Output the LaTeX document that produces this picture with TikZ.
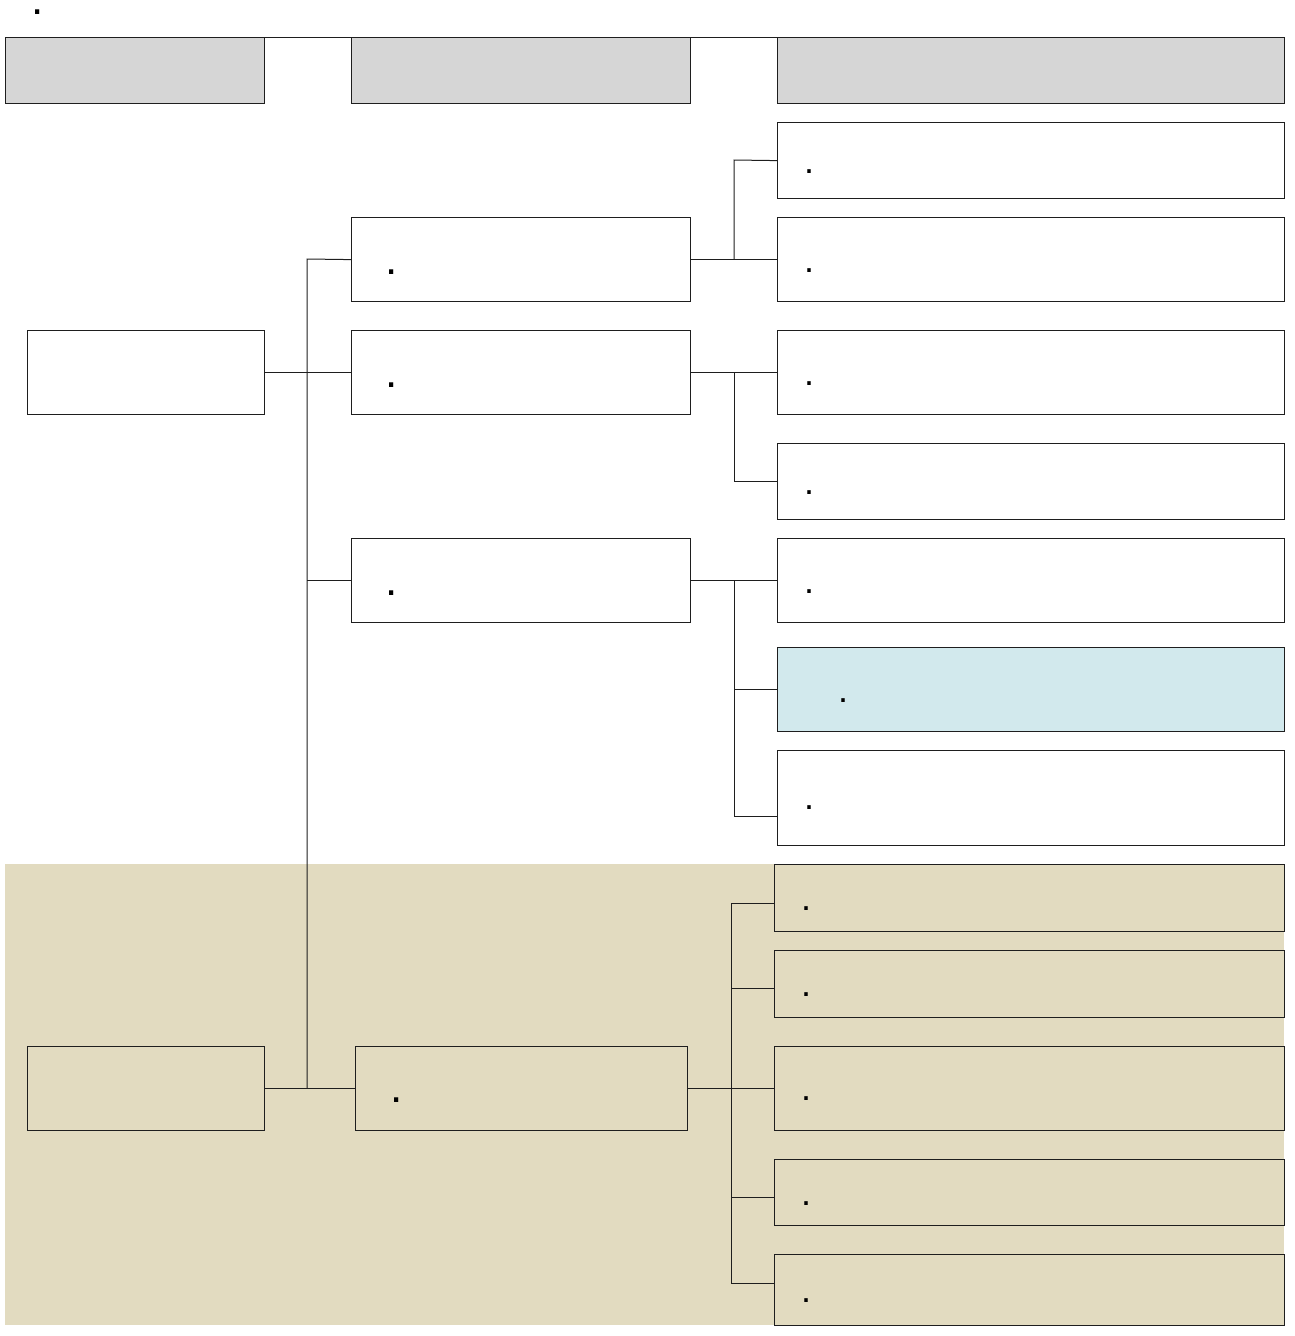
\documentclass[tikz,border=0pt]{standalone}
\usepackage{fontspec}
\setmainfont{Liberation Sans}
\definecolor{hdrgray}{RGB}{214,214,214}
\definecolor{beige}{RGB}{226,219,192}
\definecolor{lblue}{RGB}{210,233,237}
\definecolor{edge}{RGB}{30,30,30}
\begin{document}
\begin{tikzpicture}[x=1pt,y=-1pt,
  box/.style={draw=edge,line width=1.2pt,inner sep=0pt,anchor=north west},
  conn/.style={draw=edge,line width=1pt,line join=miter},
  dotmark/.style={inner sep=0pt,font=\fontsize{36}{36}\selectfont},
  bigdot/.style={inner sep=0pt,font=\fontsize{44}{44}\selectfont}]
\useasboundingbox (0,0) rectangle (1294,1336);
% beige band
\fill[beige] (5,864) rectangle (1284,1325);
% top mark
\node[bigdot] (topdot) at (38,12) {.};
% headers
\node[box,fill=hdrgray,minimum width=259pt,minimum height=66pt] (H1) at (5,37) {};
\node[box,fill=hdrgray,minimum width=339pt,minimum height=66pt] (H2) at (351,37) {};
\node[box,fill=hdrgray,minimum width=507pt,minimum height=66pt] (H3) at (777,37) {};
\draw[conn] (H1.north east) -- (H2.north west);
\draw[conn] (H2.north east) -- (H3.north west);
% left column
\node[box,fill=white,minimum width=237pt,minimum height=84pt] (L1) at (27,330) {};
\node[box,fill=beige,minimum width=237pt,minimum height=84pt] (L2) at (27,1046) {};
% middle column
\node[box,fill=white,minimum width=339pt,minimum height=84pt] (M1) at (351,217) {};
\node[box,fill=white,minimum width=339pt,minimum height=84pt] (M2) at (351,330) {};
\node[box,fill=white,minimum width=339pt,minimum height=84pt] (M3) at (351,538) {};
\node[box,fill=beige,minimum width=332pt,minimum height=84pt] (M4) at (355,1046) {};
\node[bigdot] (dm1) at (392,272) {.};
\node[bigdot] (dm2) at (392,385) {.};
\node[bigdot] (dm3) at (392,593) {.};
\node[bigdot] (dm4) at (397,1100) {.};
% right column
\node[box,fill=white,minimum width=507pt,minimum height=76pt] (R1) at (777,122) {};
\node[box,fill=white,minimum width=507pt,minimum height=84pt] (R2) at (777,217) {};
\node[box,fill=white,minimum width=507pt,minimum height=84pt] (R3) at (777,330) {};
\node[box,fill=white,minimum width=507pt,minimum height=76pt] (R4) at (777,443) {};
\node[box,fill=white,minimum width=507pt,minimum height=84pt] (R5) at (777,538) {};
\node[box,fill=lblue,minimum width=507pt,minimum height=84pt] (R6) at (777,647) {};
\node[box,fill=white,minimum width=507pt,minimum height=95pt] (R7) at (777,750) {};
\node[box,fill=beige,minimum width=510pt,minimum height=67pt] (R8) at (774,864) {};
\node[box,fill=beige,minimum width=510pt,minimum height=67pt] (R9) at (774,950) {};
\node[box,fill=beige,minimum width=510pt,minimum height=84pt] (R10) at (774,1046) {};
\node[box,fill=beige,minimum width=510pt,minimum height=66pt] (R11) at (774,1159) {};
\node[box,fill=beige,minimum width=510pt,minimum height=71pt] (R12) at (774,1254) {};
\node[dotmark] (dr1) at (809,172) {.};
\node[dotmark] (dr2) at (809,271) {.};
\node[dotmark] (dr3) at (809,384) {.};
\node[dotmark] (dr4) at (809,493) {.};
\node[dotmark] (dr5) at (809,592) {.};
\node[dotmark] (dr6) at (843,701) {.};
\node[dotmark] (dr7) at (809,808) {.};
\node[dotmark] (dr8) at (806,909) {.};
\node[dotmark] (dr9) at (806,995) {.};
\node[dotmark] (dr10) at (806,1099) {.};
\node[dotmark] (dr11) at (806,1204) {.};
\node[dotmark] (dr12) at (806,1301) {.};
% junction coordinates
\coordinate (t1) at (307,259);
\coordinate (t2) at (307,1088);
\coordinate (ja) at (734,160);
\coordinate (jb) at (734,259);
\coordinate (jc) at (734,372);
\coordinate (je) at (734,580);
\coordinate (jf) at (734,816);
\coordinate (r7in) at (777,816);
\coordinate (jg) at (731,903);
\coordinate (jh) at (731,1283);
\coordinate (r8in) at (774,903);
\coordinate (r9in) at (774,988);
\coordinate (r11in) at (774,1197);
\coordinate (r12in) at (774,1283);
% trunk from left column
\draw[conn] (M1.west) -- (t1) -- (t2);
\draw[conn] (L1.east) -- (M2.west);
\draw[conn] (t1 |- M3.west) -- (M3.west);
\draw[conn] (L2.east) -- (M4.west);
% M1 group
\draw[conn] (M1.east) -- (R2.west);
\draw[conn] (R1.west) -- (ja) -- (jb);
% M2 group
\draw[conn] (M2.east) -- (R3.west);
\draw[conn] (jc) |- (R4.west);
% M3 group
\draw[conn] (M3.east) -- (R5.west);
\draw[conn] (je) -- (jf) -- (r7in);
\draw[conn] (je |- R6.west) -- (R6.west);
% M4 group
\draw[conn] (M4.east) -- (R10.west);
\draw[conn] (r8in) -- (jg) -- (jh) -- (r12in);
\draw[conn] (jg |- r9in) -- (r9in);
\draw[conn] (jg |- r11in) -- (r11in);
\end{tikzpicture}
\end{document}
